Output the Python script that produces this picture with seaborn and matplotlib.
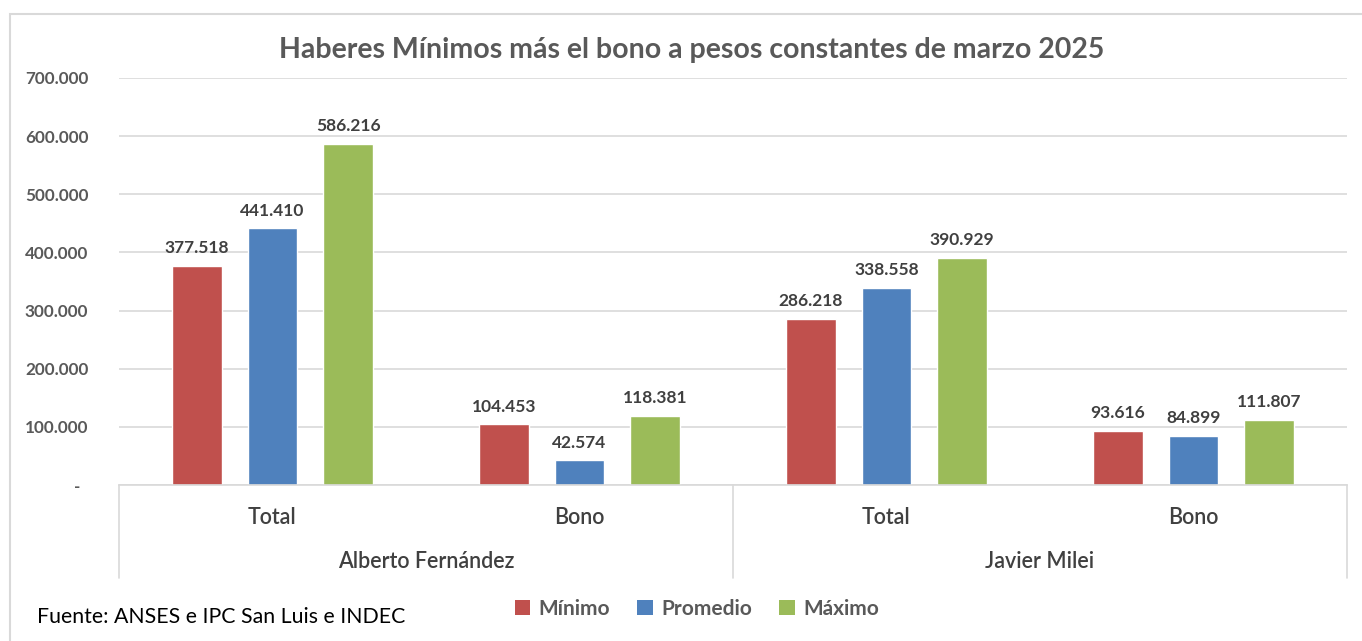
import matplotlib
matplotlib.use("Agg")
import matplotlib.pyplot as plt
import matplotlib.ticker as mticker
from matplotlib.patches import Rectangle, Patch
import seaborn as sns
import pandas as pd

# ---- data ----
presidentes = ["Alberto Fernández", "Alberto Fernández", "Javier Milei", "Javier Milei"]
conceptos = ["Total", "Bono", "Total", "Bono"]
series = ["Mínimo", "Promedio", "Máximo"]
minimo = [377518, 104453, 286218, 93616]
promedio = [441410, 42574, 338558, 84899]
maximo = [586216, 118381, 390929, 111807]
colores = ["#C0504D", "#4F81BD", "#9BBB59"]
titulo = "Haberes Mínimos más el bono a pesos constantes de marzo 2025"
fuente = "Fuente: ANSES e IPC San Luis e INDEC"

cats = [f"{p}|{c}" for p, c in zip(presidentes, conceptos)]
rows = []
for s, vals in zip(series, [minimo, promedio, maximo]):
    for cat, v in zip(cats, vals):
        rows.append({"cat": cat, "serie": s, "valor": v})
df = pd.DataFrame(rows)

sns.set_theme(style="white")
plt.rcParams["font.family"] = ["Lato", "DejaVu Sans"]

W, H = 1362, 641
fig = plt.figure(figsize=(W / 100, H / 100), dpi=100)
left, right, top, bottom = 119, 1347, 78, 485
ax = fig.add_axes([left / W, 1 - bottom / H, (right - left) / W, (bottom - top) / H])

sns.barplot(data=df, x="cat", y="valor", hue="serie", order=cats, hue_order=series,
            palette=colores, width=0.738, gap=0.35, ax=ax, legend=False,
            saturation=1, errorbar=None)

ax.set_xlim(-0.5, 3.5)
ax.set_ylim(0, 700000)
ax.yaxis.set_major_locator(mticker.MultipleLocator(100000))
ax.yaxis.set_major_formatter(mticker.FuncFormatter(
    lambda v, p: "-  " if v == 0 else f"{int(v):,}".replace(",", ".")))
ax.tick_params(axis="y", labelsize=12.3, colors="#595959", length=0, pad=22)
for t in ax.get_yticklabels():
    t.set_fontweight("bold")
ax.grid(axis="y", color="#D9D9D9", linewidth=1.2)
ax.set_axisbelow(True)
for s in ["top", "right", "left"]:
    ax.spines[s].set_visible(False)
ax.spines["bottom"].set_color("#D9D9D9")
ax.spines["bottom"].set_linewidth(1.2)
ax.set_xticks([])
ax.set_xlabel("")
ax.set_ylabel("")

# value labels
for cont in ax.containers:
    ax.bar_label(cont, labels=[f"{int(b.get_height()):,}".replace(",", ".") for b in cont],
                 padding=7, fontsize=12.5, fontweight="bold", color="#404040")

# multi-level category axis
tr = ax.get_xaxis_transform()
yb = -(578 - 485) / (bottom - top)
for xv in [-0.5, 1.5, 3.5]:
    ax.plot([xv, xv], [0, yb], transform=tr, color="#D9D9D9", lw=1.2, clip_on=False)
for i, c in enumerate(conceptos):
    ax.text(i, -(517 - 485) / (bottom - top), c, transform=tr, ha="center", va="center",
            fontsize=15.5, color="#404040", fontweight="semibold")
for xc, p in [(0.5, presidentes[0]), (2.5, presidentes[2])]:
    ax.text(xc, -(562 - 485) / (bottom - top), p, transform=tr, ha="center", va="center",
            fontsize=15.5, color="#404040", fontweight="semibold")

# title
fig.text(692 / W, 1 - 50 / H, titulo, ha="center", va="center", fontsize=20.5,
         fontweight="bold", color="#595959")

# legend
handles = [Patch(facecolor=c, edgecolor="none", label=s) for c, s in zip(colores, series)]
leg = fig.legend(handles=handles, loc="center", bbox_to_anchor=(697 / W, 1 - 609 / H), ncol=3,
                 frameon=False, handlelength=0.75, handleheight=0.75,
                 handletextpad=0.4, columnspacing=1.3, labelcolor="#595959",
                 prop={"weight": "bold", "size": 15})

# source
fig.text(37 / W, 1 - 617 / H, fuente, ha="left", va="center", fontsize=15.3, color="#000000")

# outer border
fig.add_artist(Rectangle((10 / W, -0.1), 1.2, 1 - 14 / H + 0.1, transform=fig.transFigure,
                         fill=False, edgecolor="#D9D9D9", lw=1.5))

fig.savefig("out.png", dpi=100)
